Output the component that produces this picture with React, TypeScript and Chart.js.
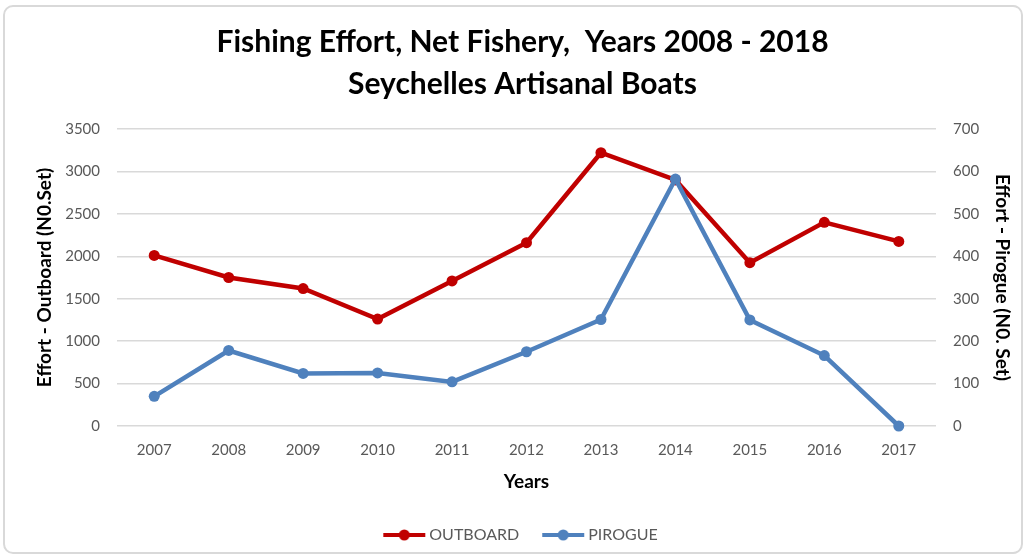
import React, { useEffect, useRef } from "react";
import { Chart, registerables } from "chart.js";

Chart.register(...registerables);

const years = ["2007", "2008", "2009", "2010", "2011", "2012", "2013", "2014", "2015", "2016", "2017"];
const outboard = [2010, 1750, 1620, 1260, 1710, 2160, 3220, 2900, 1925, 2400, 2175];
const pirogue = [70, 178, 124, 125, 104, 175, 251, 582, 250, 166, 0];
const titleLines = ["Fishing Effort, Net Fishery,  Years 2008 - 2018", "Seychelles Artisanal Boats"];
const leftTitle = "Effort - Outboard (N0.Set)";
const rightTitle = "Effort - Pirogue (N0. Set)";
const xTitle = "Years";

const RED = "#C00000";
const BLUE = "#4F81BD";
const FONT = "Lato, 'Open Sans', sans-serif";
const GRID = "#D9D9D9";
const TICK = "#595959";

function makeMarker(color: string): HTMLCanvasElement {
  const c = document.createElement("canvas");
  c.width = 44;
  c.height = 12;
  const ctx = c.getContext("2d")!;
  ctx.strokeStyle = color;
  ctx.lineWidth = 4;
  ctx.beginPath();
  ctx.moveTo(1, 6);
  ctx.lineTo(43, 6);
  ctx.stroke();
  ctx.fillStyle = color;
  ctx.beginPath();
  ctx.arc(22, 6, 5.5, 0, Math.PI * 2);
  ctx.fill();
  return c;
}

const plain = (v: any) => String(v);

export default function App() {
  const ref = useRef<HTMLCanvasElement | null>(null);

  useEffect(() => {
    if (!ref.current) return;
    const markers = [makeMarker(RED), makeMarker(BLUE)];
    const chart = new Chart(ref.current, {
      type: "line",
      data: {
        labels: years,
        datasets: [
          {
            label: "OUTBOARD",
            data: outboard,
            yAxisID: "y",
            borderColor: RED,
            backgroundColor: RED,
            pointBackgroundColor: RED,
            pointBorderColor: RED,
            borderWidth: 4.5,
            pointRadius: 5.5,
            pointBorderWidth: 0,
            order: 1,
            clip: false,
          },
          {
            label: "PIROGUE",
            data: pirogue,
            yAxisID: "y1",
            borderColor: BLUE,
            backgroundColor: BLUE,
            pointBackgroundColor: BLUE,
            pointBorderColor: BLUE,
            borderWidth: 4.5,
            pointRadius: 5.5,
            pointBorderWidth: 0,
            order: 0,
            clip: false,
          },
        ],
      },
      options: {
        animation: false,
        responsive: false,
        maintainAspectRatio: false,
        layout: { padding: { top: 18, left: 20, right: 0, bottom: 2 } },
        plugins: {
          tooltip: { enabled: false },
          title: {
            display: true,
            text: titleLines,
            color: "#000000",
            font: { family: FONT, size: 30, weight: "bold", lineHeight: 1.4 },
            padding: { top: 3.5, bottom: 23.5 },
          },
          legend: {
            position: "bottom",
            labels: {
              usePointStyle: true,
              pointStyleWidth: 34,
              padding: 27,
              color: TICK,
              font: { family: FONT, size: 16 },
              sort: (a: any, b: any) => a.datasetIndex - b.datasetIndex,
              generateLabels: (c: any) => {
                const items = (Chart.defaults.plugins.legend.labels as any).generateLabels(c);
                return items.map((it: any) => ({ ...it, pointStyle: markers[it.datasetIndex] }));
              },
            },
          },
        },
        scales: {
          x: {
            type: "category",
            offset: true,
            grid: { display: false, drawTicks: false },
            border: { display: false },
            ticks: { color: TICK, font: { family: FONT, size: 15 }, padding: 15, maxRotation: 0 },
            title: {
              display: true,
              text: xTitle,
              color: "#000000",
              font: { family: FONT, size: 19, weight: "bold", lineHeight: 1.2 },
              padding: { top: 0, bottom: 7 },
            },
            afterFit: (s: any) => {
              s.height = 74;
            },
          },
          y: {
            position: "left",
            min: 0,
            max: 3500,
            ticks: { stepSize: 500, color: TICK, font: { family: FONT, size: 15 }, padding: 17, callback: plain },
            grid: { color: GRID, lineWidth: 1.5, drawTicks: false },
            border: { display: false },
            title: {
              display: true,
              text: leftTitle,
              color: "#000000",
              font: { family: FONT, size: 19, weight: "bold", lineHeight: 1.2 },
              padding: { top: 13.6, bottom: 0 },
            },
            afterFit: (s: any) => {
              s.width = 97;
            },
          },
          y1: {
            position: "right",
            min: 0,
            max: 700,
            ticks: { stepSize: 100, color: TICK, font: { family: FONT, size: 15 }, padding: 17, callback: plain },
            grid: { display: false, drawTicks: false },
            border: { display: false },
            title: {
              display: true,
              text: rightTitle,
              color: "#000000",
              font: { family: FONT, size: 19, weight: "bold", lineHeight: 1.2 },
              padding: { top: 11.6, bottom: 0 },
            },
            afterFit: (s: any) => {
              s.width = 89;
            },
          },
        },
      },
    } as any);
    return () => chart.destroy();
  }, []);

  return (
    <div style={{ position: "fixed", left: 0, top: 0, width: 1025, height: 555, background: "#fff", overflow: "hidden" }}>
      <div
        style={{
          position: "absolute",
          left: 3,
          top: 5,
          width: 1020,
          height: 549,
          border: "2px solid #D9D9D9",
          borderRadius: 10,
          boxSizing: "border-box",
        }}
      />
      <canvas ref={ref} width={1025} height={555} style={{ position: "absolute", left: 0, top: 0 }} />
    </div>
  );
}
